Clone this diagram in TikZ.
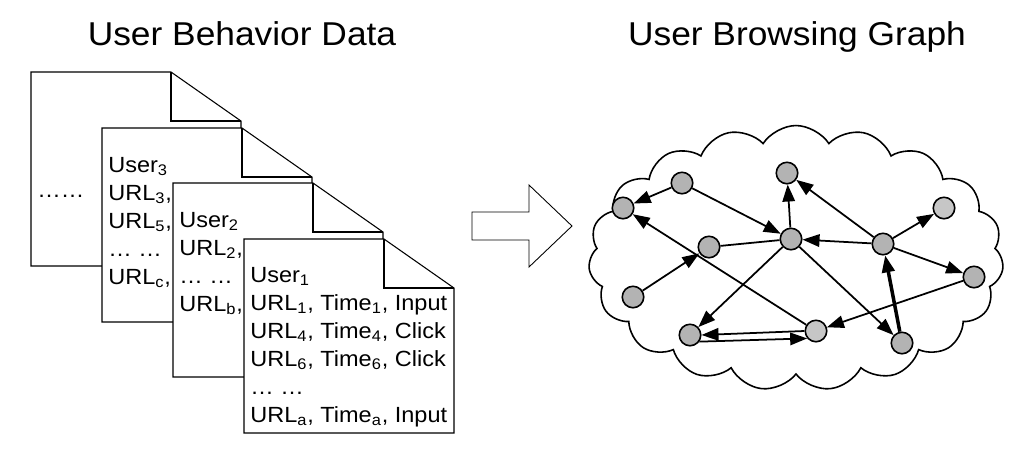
\documentclass[tikz,border=0pt]{standalone}
\usepackage{fontspec}
\setmainfont{Liberation Sans}[FakeStretch=1.07]
\usetikzlibrary{arrows.meta,shapes.symbols}

\definecolor{nodegray}{HTML}{B3B3B3}
\definecolor{nodelight}{HTML}{C6C6C6}

\tikzset{
  docpage/.style={draw, fill=white, line width=0.6pt},
  doctext/.style={anchor=base west, inner sep=0pt, font=\fontsize{12.5}{15}\selectfont},
  heading/.style={anchor=base, inner sep=0pt, font=\fontsize{18.8}{22}\selectfont},
  vertex/.style={circle, draw, line width=0.9pt, fill=nodegray, minimum size=0.43cm, inner sep=0pt},
  edge/.style={line width=1pt, -{Triangle[length=0.34cm,width=0.25cm]}},
}

% one sheet with folded corner, top-left at (#1,#2)
\newcommand{\docpage}[2]{%
  \draw[docpage] (#1,#2) -- ++(140,0) -- ++(70,49) -- ++(0,145) -- ++(-210,0) -- cycle;
  \draw[line width=0.6pt] (#1+140,#2) -- ++(0,49) -- ++(70,0);
}

\begin{document}
\begin{tikzpicture}[x=0.02cm,y=-0.02cm]
\useasboundingbox (0,0) rectangle (1036,461);

% titles
\node[heading] (tleft) at (242,45) {User Behavior Data};
\node[heading] (tright) at (797,45) {User Browsing Graph};

% stack of sheets, back to front
\docpage{31}{72}
\node[doctext] (more) at (37,197) {……};

\docpage{102}{128}
\foreach \t [count=\i] in {User\textsubscript{3},
    {URL\textsubscript{3},},
    {URL\textsubscript{5},},
    {… …},
    {URL\textsubscript{c},}}{
    \node[doctext] (uc\i) at (108,{172+28*(\i-1)}) {\t};
}

\docpage{173}{183}
\foreach \t [count=\i] in {User\textsubscript{2},
    {URL\textsubscript{2},},
    {… …},
    {URL\textsubscript{b},}}{
    \node[doctext] (ub\i) at (179,{227+28*(\i-1)}) {\t};
}

\docpage{244}{239}
\foreach \t [count=\i] in {User\textsubscript{1},
    {URL\textsubscript{1}, Time\textsubscript{1}, Input},
    {URL\textsubscript{4}, Time\textsubscript{4}, Click},
    {URL\textsubscript{6}, Time\textsubscript{6}, Click},
    {… …},
    {URL\textsubscript{a}, Time\textsubscript{a}, Input}}{
    \node[doctext] (ua\i) at (250,{282+28*(\i-1)}) {\t};
}

% block arrow
\draw[line width=0.5pt, fill=white] (472,212) -- (529,212) -- (529,185) -- (572,226)
    -- (529,267) -- (529,240) -- (472,240) -- cycle;

% cloud
\node[cloud, draw, fill=white, line width=0.9pt, cloud puffs=19, cloud puff arc=115,
    cloud ignores aspect, minimum width=8.3cm, minimum height=5.3cm, inner sep=0pt]
    (web) at (796,258) {};

% pages of the graph
\node[vertex] (v1) at (623,208) {};
\node[vertex] (v2) at (682,183) {};
\node[vertex] (v3) at (709,247) {};
\node[vertex] (v4) at (633,297) {};
\node[vertex] (v5) at (791,239) {};
\node[vertex] (v6) at (787,173) {};
\node[vertex] (v7) at (883,244) {};
\node[vertex, fill=nodelight] (v8) at (944,208) {};
\node[vertex] (v9) at (974,277) {};
\node[vertex] (v10) at (690,335) {};
\node[vertex, fill=nodelight] (v11) at (816,331) {};
\node[vertex] (v12) at (902,343) {};

% links
\draw[edge] (v2) -- (v1);
\draw[edge] (v2) -- (v5);
\draw[edge] (v11) -- (v1);
\draw[edge] (v4) -- (v3);
\draw[line width=1pt] (v3) -- (v5);
\draw[edge] (v5) -- (v6);
\draw[edge] (v7) -- (v6);
\draw[edge] (v7) -- (v5);
\draw[edge] (v7) -- (v8);
\draw[edge] (v7) -- (v9);
\draw[edge, line width=2pt] (v12) -- (v7);
\draw[edge] (v9) -- (v11);
\draw[edge] (v5) -- (v10);
\draw[edge] (v5) -- (v12);
\draw[edge] (v11.west) -- (v10.east);
\draw[edge] (v10.-35) -- (v11.-140);

\end{tikzpicture}
\end{document}
